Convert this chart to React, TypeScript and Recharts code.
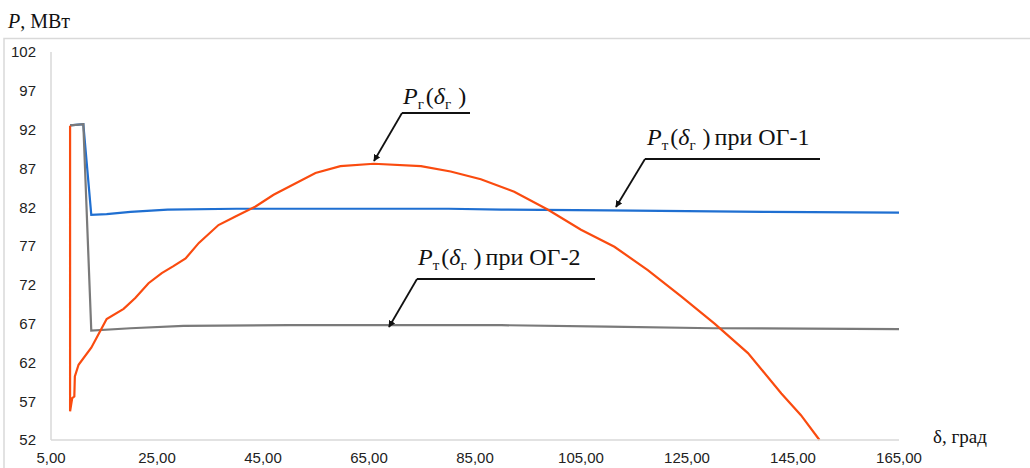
import React from 'react';
import { LineChart, Line, XAxis, YAxis } from 'recharts';

const xTicks = [5, 25, 45, 65, 85, 105, 125, 145, 165];
const yTicks = [52, 57, 62, 67, 72, 77, 82, 87, 92, 97, 102];

const redDelta = [8.6, 8.6, 9.0, 9.4, 9.5, 10.2, 12.6, 15.5, 18.7, 20.9, 23.4, 25.9, 28.1, 30.4, 32.9, 36.6, 39.8, 43.6, 47, 54.9, 59.6, 65.9, 74.8, 80.4, 86.1, 92.4, 98.7, 105, 111.3, 117.6, 123.9, 130.2, 136.5, 142.8, 146.5, 150];
const redP = [92.5, 55.7, 57.4, 57.6, 60.2, 61.7, 63.9, 67.6, 68.9, 70.3, 72.2, 73.5, 74.4, 75.4, 77.4, 79.7, 80.8, 82.1, 83.6, 86.4, 87.3, 87.6, 87.3, 86.6, 85.6, 84.0, 81.7, 79.1, 76.9, 73.9, 70.5, 67.0, 63.2, 58.0, 55.2, 52.0];

const blueDelta = [8.6, 11.1, 12.6, 15.5, 20, 27, 40, 60, 80, 90, 110, 125, 140, 165];
const blueP = [92.55, 92.7, 81.0, 81.1, 81.4, 81.7, 81.8, 81.8, 81.8, 81.7, 81.6, 81.5, 81.4, 81.3];

const grayDelta = [8.6, 11.1, 12.6, 20, 30, 50, 90, 110, 130, 165];
const grayP = [92.55, 92.7, 66.1, 66.4, 66.7, 66.8, 66.8, 66.6, 66.4, 66.3];

const toData = (xs: number[], ys: number[]) => xs.map((x, i) => ({ x, p: ys[i] }));
const redData = toData(redDelta, redP);
const blueData = toData(blueDelta, blueP);
const grayData = toData(grayDelta, grayP);

const fmt = (v: number) => v.toFixed(2).replace('.', ',');

const serif = '"Liberation Serif", "Times New Roman", serif';
const sans = '"Liberation Sans", Arial, sans-serif';

function Label({ x, y, sub, rest }: { x: number; y: number; sub: string; rest?: string }) {
  return (
    <text x={x} y={y} fontFamily={serif} fontSize={24} fill="#111">
      <tspan fontStyle="italic">P</tspan>
      <tspan fontSize={15} dy={5}>{sub}</tspan>
      <tspan dy={-5} dx={2}>(</tspan>
      <tspan fontStyle="italic">δ</tspan>
      <tspan fontSize={15} dy={5}>г</tspan>
      <tspan dy={-5} dx={7}>)</tspan>
      {rest ? <tspan dx={4}>{rest}</tspan> : null}
    </text>
  );
}

export default function App() {
  return (
    <div style={{ position: 'absolute', left: 0, top: 0, width: 1030, height: 468, background: '#fff' }}>
      <LineChart width={1030} height={468} margin={{ top: 52, right: 131, bottom: 0, left: 0 }}>
        <XAxis
          dataKey="x"
          type="number"
          domain={[5, 165]}
          ticks={xTicks}
          tickFormatter={fmt}
          axisLine={{ stroke: '#d9d9d9', strokeWidth: 1.5 }}
          tickLine={false}
          tickSize={0}
          tickMargin={12}
          height={28}
          tick={{ fontFamily: sans, fontSize: 15, fill: '#222' }}
          allowDuplicatedCategory={false}
        />
        <YAxis
          type="number"
          domain={[52, 102]}
          ticks={yTicks}
          axisLine={{ stroke: '#d9d9d9', strokeWidth: 1.5 }}
          tickLine={false}
          tickSize={0}
          tickMargin={15}
          width={51}
          tick={{ fontFamily: sans, fontSize: 15, fill: '#222' }}
        />
        <Line data={blueData} dataKey="p" type="linear" stroke="#1f6fd1" strokeWidth={2.2} dot={false} isAnimationActive={false} />
        <Line data={grayData} dataKey="p" type="linear" stroke="#7a7a7a" strokeWidth={2.2} dot={false} isAnimationActive={false} />
        <Line data={redData} dataKey="p" type="linear" stroke="#fa4b0f" strokeWidth={2.2} dot={false} isAnimationActive={false} />
      </LineChart>
      <svg width={1030} height={468} style={{ position: 'absolute', left: 0, top: 0, pointerEvents: 'none' }}>
        <defs>
          <marker id="ah" viewBox="0 0 10 10" refX="9" refY="5" markerWidth="7" markerHeight="7" orient="auto-start-reverse" markerUnits="userSpaceOnUse">
            <path d="M0,0 L10,5 L0,10 z" fill="#111" />
          </marker>
        </defs>
        <polyline points="4,468 4,38.5 1030,38.5" fill="none" stroke="#d9d9d9" strokeWidth={1.5} />
        <text x={8} y={28} fontFamily={serif} fontSize={20} fill="#111">
          <tspan fontStyle="italic">P</tspan>
          <tspan>, МВт</tspan>
        </text>
        <text x={933} y={443} fontFamily={serif} fontSize={19} fill="#111">δ, град</text>

        <Label x={403} y={104} sub="г" />
        <line x1={402} y1={113} x2={470} y2={113} stroke="#111" strokeWidth={2} />
        <line x1={402} y1={113} x2={374} y2={161} stroke="#111" strokeWidth={1.8} markerEnd="url(#ah)" />

        <Label x={647} y={145} sub="т" rest="при ОГ-1" />
        <line x1={645} y1={159} x2={820} y2={159} stroke="#111" strokeWidth={2} />
        <line x1={645} y1={159} x2={616} y2={207} stroke="#111" strokeWidth={1.8} markerEnd="url(#ah)" />

        <Label x={418} y={265} sub="т" rest="при ОГ-2" />
        <line x1={417} y1={279} x2={595} y2={279} stroke="#111" strokeWidth={2} />
        <line x1={417} y1={279} x2={389} y2={327} stroke="#111" strokeWidth={1.8} markerEnd="url(#ah)" />
      </svg>
    </div>
  );
}
